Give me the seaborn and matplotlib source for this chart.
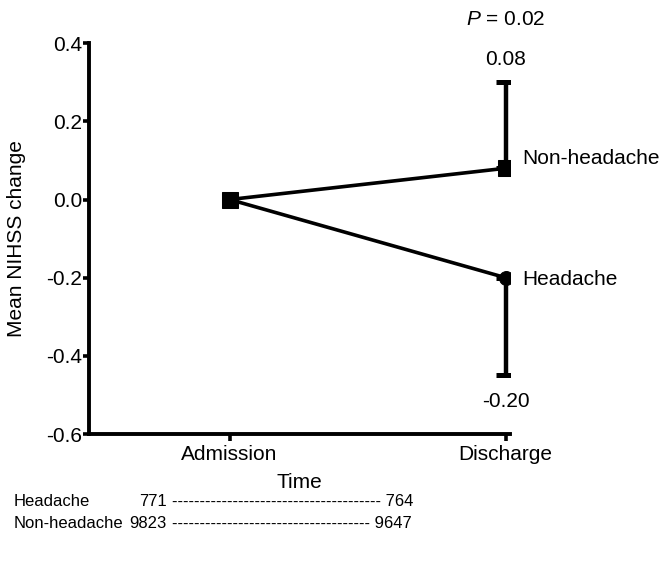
import numpy as np
import pandas as pd
import matplotlib
matplotlib.use("Agg")
import matplotlib.pyplot as plt
import seaborn as sns

# chart values
time_points = ["Admission", "Discharge"]
groups = ["Non-headache", "Headache"]
mean_change = {"Non-headache": [0.0, 0.08], "Headache": [0.0, -0.20]}
err_upper = {"Non-headache": 0.22, "Headache": 0.0}
err_lower = {"Non-headache": 0.0, "Headache": 0.25}
markers = {"Non-headache": "s", "Headache": "o"}
p_label = "$P$ = 0.02"
count_rows = ["Headache", "Non-headache"]
counts_admission = [771, 9823]
counts_discharge = [764, 9647]
y_ticks = [0.4, 0.2, 0.0, -0.2, -0.4, -0.6]

sns.set_style("ticks")
plt.rcParams['font.family'] = ['Liberation Sans', 'DejaVu Sans']
plt.rcParams['mathtext.fontset'] = 'custom'
plt.rcParams['mathtext.it'] = 'Liberation Sans:italic'
plt.rcParams['mathtext.rm'] = 'Liberation Sans'
for k in ['text.color', 'axes.labelcolor', 'xtick.color', 'ytick.color', 'axes.edgecolor']:
    plt.rcParams[k] = 'black'

FS = 15

rows = []
for g in groups:
    for i, t in enumerate(time_points):
        rows.append({"Group": g, "pos": i, "Time": t, "change": mean_change[g][i]})
df = pd.DataFrame(rows)

fig = plt.figure(figsize=(6.63, 5.75), dpi=100)
ax = fig.add_axes([0.134, 0.245, 0.635, 0.68])

# headache first so the admission square sits on top
for g in ["Headache", "Non-headache"]:
    sub = df[df["Group"] == g]
    sns.lineplot(data=sub, x="pos", y="change", ax=ax, color="black",
                 linewidth=2.6, marker=markers[g],
                 markersize=11 if markers[g] == "s" else 10,
                 markeredgecolor="black", markerfacecolor="black")
    last = sub.iloc[-1]
    ax.errorbar(last["pos"], last["change"],
                yerr=[[err_lower[g]], [err_upper[g]]], fmt="none",
                ecolor="black", elinewidth=3.2, capsize=7, capthick=3.6)

ax.set_xlim(-0.51, 1.015)
ax.set_ylim(-0.6, 0.4)
ax.set_xticks(range(len(time_points)))
ax.set_xticklabels(time_points)
ax.set_yticks(y_ticks)
ax.set_yticklabels([f"{v:.1f}" for v in y_ticks])
ax.set_xlabel("Time", fontsize=FS, labelpad=6)
ax.set_ylabel("Mean NIHSS change", fontsize=FS, labelpad=14)
ax.tick_params(axis="both", labelsize=FS, width=2.6, direction="out")
ax.tick_params(axis="y", length=4, pad=1)
ax.tick_params(axis="x", length=5, pad=3)
for s in ["top", "right"]:
    ax.spines[s].set_visible(False)
for s in ["left", "bottom"]:
    ax.spines[s].set_linewidth(2.8)

# annotations
x_dis = 1
nh_top = mean_change["Non-headache"][1] + err_upper["Non-headache"]
h_bot = mean_change["Headache"][1] - err_lower["Headache"]
ax.text(x_dis, nh_top + 0.058, f"{mean_change['Non-headache'][1]:.2f}",
        ha="center", va="center", fontsize=FS, clip_on=False)
ax.text(x_dis, nh_top + 0.16, p_label, ha="center", va="center",
        fontsize=FS, clip_on=False)
ax.text(x_dis, h_bot - 0.066, f"{mean_change['Headache'][1]:.2f}",
        ha="center", va="center", fontsize=FS, clip_on=False)
ax.text(x_dis + 0.06, mean_change["Non-headache"][1] + 0.025, "Non-headache",
        ha="left", va="center", fontsize=FS, clip_on=False)
ax.text(x_dis + 0.06, mean_change["Headache"][1] - 0.005, "Headache",
        ha="left", va="center", fontsize=FS, clip_on=False)

# counts table below chart
dashes = ["-" * 38, "-" * 36]
row_y = [0.127, 0.089]
for name, a, d, dash, y in zip(count_rows, counts_admission, counts_discharge, dashes, row_y):
    fig.text(0.021, y, name, ha="left", va="center", fontsize=12)
    fig.text(0.251, y, str(a), ha="right", va="center", fontsize=12)
    fig.text(0.259, y, dash + " " + str(d), ha="left", va="center", fontsize=12)

fig.savefig("out.png", dpi=100)
